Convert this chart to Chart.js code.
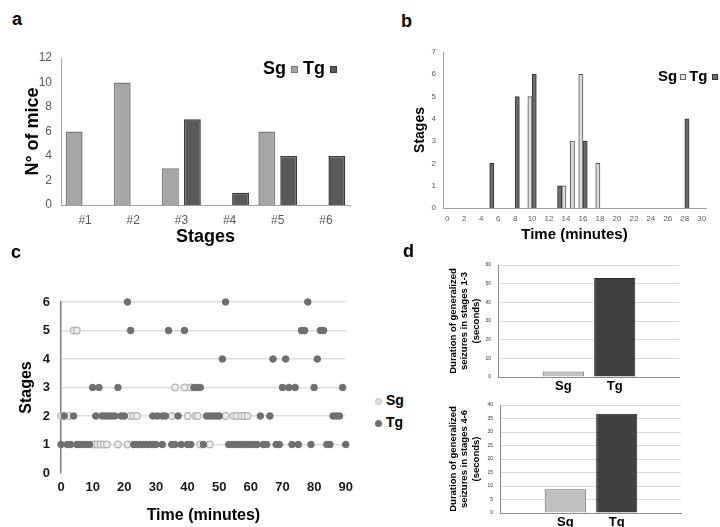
<!DOCTYPE html>
<html>
<head>
<meta charset="utf-8">
<script src="https://cdn.jsdelivr.net/npm/chart.js@4"></script>
<style>
  body { margin: 0; background: #fff; }
  #fig { position: relative; width: 720px; height: 527px; overflow: hidden;
         font-family: 'Liberation Sans', Arial, sans-serif; }
  #fig canvas { position: absolute; }
  .txt { position: absolute; font-weight: bold; color: #000; white-space: nowrap; }
  .letter { font-size: 18px; line-height: 18px; }
  .sq { display: inline-block; vertical-align: middle; box-sizing: border-box; }
  .dot { display: inline-block; width: 7px; height: 7px; border-radius: 50%; vertical-align: middle; box-sizing: border-box; }
</style>
</head>
<body>
<div id="fig">
  <canvas id="chartA" width="360" height="210" style="left:0;top:40px"></canvas>
  <canvas id="chartB" width="325" height="210" style="left:395px;top:40px"></canvas>
  <canvas id="chartC" width="360" height="247" style="left:0;top:280px"></canvas>
  <canvas id="chartD1" width="280" height="140" style="left:440px;top:255px"></canvas>
  <canvas id="chartD2" width="280" height="132" style="left:440px;top:395px"></canvas>

  <div class="txt letter" style="left:12px;top:10px">a</div>
  <div class="txt letter" style="left:401px;top:12px">b</div>
  <div class="txt letter" style="left:11px;top:243px">c</div>
  <div class="txt letter" style="left:403px;top:242px">d</div>

  <div class="txt" style="left:263px;top:58px;font-size:18px;line-height:20px">
    Sg <span class="sq" style="width:7px;height:7px;background:#a6a6a6;border:1px solid #7a7a7a"></span>
    Tg <span class="sq" style="width:7px;height:7px;background:#595959;border:1px solid #3a3a3a"></span>
  </div>
  <div class="txt" style="left:658px;top:67px;font-size:15px;line-height:18px">
    Sg<span class="sq" style="width:6px;height:6px;margin:0 3px;background:#e6e6e6;border:1px solid #666"></span>Tg<span class="sq" style="width:6px;height:6px;margin-left:4px;background:#6b6b6b;border:1px solid #333"></span>
  </div>
  <div class="txt" style="left:375px;top:391px;font-size:14px;line-height:18px">
    <span class="dot" style="background:#e0e0e0;border:1px solid #bdbdbd"></span> Sg
  </div>
  <div class="txt" style="left:375px;top:413px;font-size:14px;line-height:18px">
    <span class="dot" style="background:#6f6f6f"></span> Tg
  </div>
</div>

<script>
const FONT = "'Liberation Sans', Arial, sans-serif";

// panel a: number of mice per stage
const stageLabels = ["#1", "#2", "#3", "#4", "#5", "#6"];
const sgMice = [6, 10, 3, null, 6, null];
const tgMice = [null, null, 7, 1, 4, 4];

// panel b: stage reached at each minute
const timeLabels = ["0", "1", "2", "3", "4", "5", "6", "7", "8", "9", "10",
  "11", "12", "13", "14", "15", "16", "17", "18", "19", "20",
  "21", "22", "23", "24", "25", "26", "27", "28", "29", "30"];
const sgStageByMin = [null, null, null, null, null, null, null, null, null, null, 5,
  null, null, null, 1, 3, 6, null, 2, null, null,
  null, null, null, null, null, null, null, null, null, null];
const tgStageByMin = [null, null, null, null, null, 2, null, null, 5, null, 6,
  null, null, 1, null, null, 3, null, null, null, null,
  null, null, null, null, null, null, null, 4, null, null];

// panel c: times (minutes) of events, one array per stage
const sgStage1 = [10.5, 11.5, 12.5, 13.5, 14.5, 18, 21, 44, 47];
const sgStage2 = [0, 2.5, 22, 23, 24, 35, 40, 42.5, 43.2, 52, 54.5, 55.5, 57, 58, 59];
const sgStage3 = [36, 39, 41];
const sgStage5 = [4, 5];
const tgStage1 = [0, 2, 3, 5, 6, 7, 8, 9, 23, 24, 25, 26, 27, 28, 29, 30, 32, 35, 36, 38,
  40, 41, 45, 53, 54, 55, 56, 57, 58, 59, 60, 61, 62, 64, 65, 68, 69, 73, 75, 79, 84, 85, 90];
const tgStage2 = [1, 4, 11, 13, 14, 15, 16, 17, 19, 20, 29, 30.5, 32, 33, 37,
  46, 47, 48, 49, 50, 63, 66, 86, 87, 88];
const tgStage3 = [10, 12, 18, 42, 43, 44, 70, 72, 74, 80, 89];
const tgStage4 = [51, 67, 71, 81];
const tgStage5 = [22, 34, 39, 76, 77, 82, 83];
const tgStage6 = [21, 52, 78];

// panel d: seizure durations (seconds)
const durGroups = ["Sg", "Tg"];
const dur13 = [3, 53];
const dur46 = [8.8, 36.8];

Chart.defaults.font.family = FONT;
Chart.defaults.animation = false;
Chart.defaults.plugins.legend.display = false;
Chart.defaults.plugins.tooltip.enabled = false;

const toPoints = (times, stage) => times.map((t) => ({ x: t, y: stage }));

// panel a
new Chart(document.getElementById("chartA"), {
  type: "bar",
  data: {
    labels: stageLabels,
    datasets: [
      { label: "Sg", data: sgMice, backgroundColor: "#a6a6a6", borderColor: "#7a7a7a", borderWidth: 1.5 },
      { label: "Tg", data: tgMice, backgroundColor: "#595959", borderColor: "#3a3a3a", borderWidth: 1.5 },
    ],
  },
  options: {
    responsive: false,
    devicePixelRatio: 1,
    layout: { padding: { top: 18, right: 10, left: 0, bottom: 0 } },
    datasets: { bar: { categoryPercentage: 0.91, barPercentage: 0.77 } },
    scales: {
      x: {
        grid: { display: false, drawTicks: false },
        border: { color: "#a0a0a0" },
        ticks: { color: "#595959", font: { size: 12 }, padding: 8 },
        title: { display: true, text: "Stages", color: "#000", font: { size: 18, weight: "bold" }, padding: { top: 0, bottom: 2 } },
        afterFit: (s) => { s.height = 45; },
      },
      y: {
        min: 0, max: 12,
        grid: { display: false, drawTicks: false },
        border: { color: "#a0a0a0" },
        ticks: { stepSize: 2, color: "#595959", font: { size: 12 }, padding: 9 },
        title: { display: true, text: "N° of mice", color: "#000", font: { size: 18, weight: "bold" }, padding: { top: 22, bottom: 0 } },
        afterFit: (s) => { s.width = 61; },
      },
    },
  },
});

// panel b
new Chart(document.getElementById("chartB"), {
  type: "bar",
  data: {
    labels: timeLabels,
    datasets: [
      { label: "Sg", data: sgStageByMin, backgroundColor: "#dcdcdc", borderColor: "#555", borderWidth: 1 },
      { label: "Tg", data: tgStageByMin, backgroundColor: "#6b6b6b", borderColor: "#333", borderWidth: 1 },
    ],
  },
  options: {
    responsive: false,
    devicePixelRatio: 1,
    layout: { padding: { top: 12, right: 14, left: 0, bottom: 0 } },
    datasets: { bar: { categoryPercentage: 1, barPercentage: 1 } },
    scales: {
      x: {
        grid: { display: false, drawTicks: false },
        border: { color: "#a0a0a0" },
        ticks: {
          autoSkip: false, maxRotation: 0, color: "#595959", font: { size: 8 }, padding: 6,
          callback: (v, i) => (i % 2 === 0 ? timeLabels[i] : ""),
        },
        title: { display: true, text: "Time (minutes)", color: "#000", font: { size: 15, weight: "bold" }, padding: { top: 0, bottom: 6 } },
        afterFit: (s) => { s.height = 42; },
      },
      y: {
        min: 0, max: 7,
        grid: { display: false, drawTicks: false },
        border: { color: "#a0a0a0" },
        ticks: { stepSize: 1, color: "#595959", font: { size: 8 }, padding: 7 },
        title: { display: true, text: "Stages", color: "#000", font: { size: 14, weight: "bold" }, padding: { top: 17, bottom: 0 } },
        afterFit: (s) => { s.width = 48; },
      },
    },
  },
});

// panel c
const tgPoints = [
  ...toPoints(tgStage1, 1), ...toPoints(tgStage2, 2), ...toPoints(tgStage3, 3),
  ...toPoints(tgStage4, 4), ...toPoints(tgStage5, 5), ...toPoints(tgStage6, 6),
];
const sgPoints = [
  ...toPoints(sgStage1, 1), ...toPoints(sgStage2, 2), ...toPoints(sgStage3, 3), ...toPoints(sgStage5, 5),
];

new Chart(document.getElementById("chartC"), {
  type: "scatter",
  data: {
    datasets: [
      { label: "Tg", data: tgPoints, pointRadius: 3.3, backgroundColor: "#6f6f6f", borderColor: "#6f6f6f", borderWidth: 1, clip: false },
      { label: "Sg", data: sgPoints, pointRadius: 3.3, backgroundColor: "#ececec", borderColor: "#b5b5b5", borderWidth: 1.2, clip: false },
    ],
  },
  options: {
    responsive: false,
    devicePixelRatio: 1,
    layout: { padding: { top: 22, right: 11, left: 0, bottom: 0 } },
    scales: {
      x: {
        type: "linear", min: 0, max: 90,
        grid: { display: false, drawTicks: false },
        border: { display: false },
        ticks: { stepSize: 10, color: "#1a1a1a", font: { size: 13, weight: "bold" }, padding: 7 },
        title: { display: true, text: "Time (minutes)", color: "#000", font: { size: 16, weight: "bold" }, padding: { top: 0, bottom: 2 } },
        afterFit: (s) => { s.height = 54; },
      },
      y: {
        min: 0, max: 6,
        grid: { drawTicks: false, color: (ctx) => (ctx.tick && ctx.tick.value === 0 ? "rgba(0,0,0,0)" : "#dedede"), lineWidth: 1.5 },
        border: { color: "#7f7f7f", width: 1.5 },
        ticks: { stepSize: 1, color: "#1a1a1a", font: { size: 13, weight: "bold" }, padding: 11 },
        title: { display: true, text: "Stages", color: "#000", font: { size: 16, weight: "bold" }, padding: { top: 17, bottom: 0 } },
        afterFit: (s) => { s.width = 61; },
      },
    },
  },
});

// panel d, two small bar charts
function durationChart(id, values, yMax, yStep, yWidth, xHeight, pad, stages) {
  return new Chart(document.getElementById(id), {
    type: "bar",
    data: {
      datasets: [{
        data: durGroups.map((g, i) => ({ x: i + 1, y: values[i] })),
        backgroundColor: ["#c0c0c0", "#404040"],
        borderColor: ["#6b6b6b", "#262626"],
        borderWidth: 1,
        categoryPercentage: 1,
        barPercentage: 0.8,
      }],
    },
    options: {
      responsive: false,
      devicePixelRatio: 1,
      layout: { padding: pad },
      scales: {
        x: {
          type: "linear", min: -0.27, max: 3.25, offset: false,
          afterBuildTicks: (s) => { s.ticks = durGroups.map((g, i) => ({ value: i + 1 })); },
          grid: { display: false, drawTicks: false },
          border: { color: "#8c8c8c" },
          ticks: { color: "#000", font: { size: 13, weight: "bold" }, padding: 2, callback: (v) => durGroups[v - 1] },
          afterFit: (s) => { s.height = xHeight; },
        },
        y: {
          min: 0, max: yMax,
          grid: { drawTicks: false, color: "#d9d9d9" },
          border: { color: "#8c8c8c" },
          ticks: { stepSize: yStep, color: "#333", font: { size: 5 }, padding: 7 },
          title: {
            display: true,
            text: ["Duration of generalized", "seizures in stages " + stages, "(seconds)"],
            color: "#000",
            font: { size: 9.5, weight: "bold", lineHeight: 1.25 },
            padding: { top: 7, bottom: 0 },
          },
          afterFit: (s) => { s.width = yWidth; },
        },
      },
    },
  });
}

durationChart("chartD1", dur13, 60, 10, 58, 18, { top: 10, right: 41, left: 0, bottom: 0 }, "1-3");
durationChart("chartD2", dur46, 40, 5, 60, 14, { top: 8, right: 39, left: 0, bottom: 0 }, "4-6");
</script>
</body>
</html>
